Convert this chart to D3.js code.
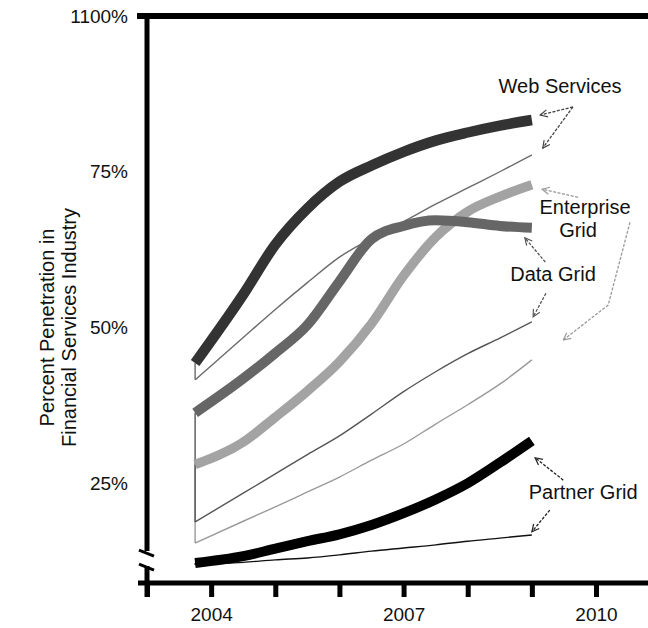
<!DOCTYPE html>
<html>
<head>
<meta charset="utf-8">
<script src="https://cdn.jsdelivr.net/npm/d3@7"></script>
<style>
  html, body { margin: 0; padding: 0; background: #fff; }
  svg { display: block; font-family: "Liberation Sans", Arial, Helvetica, sans-serif; }
</style>
</head>
<body>
<svg id="chart" width="648" height="628"></svg>
<script>
// ---------------- DATA ----------------
const years      = [2003.75, 2004.5, 2005, 2005.5, 2006, 2006.5, 2007, 2007.5, 2008, 2008.5, 2009];
const webThick   = [44.3, 55.3, 63.3, 69.1, 73.4, 76.0, 78.2, 80.0, 81.3, 82.4, 83.3];
const webThin    = [41.6, 48.4, 52.9, 57.2, 61.3, 64.3, 67.0, 69.8, 72.4, 75.0, 77.7];
const dataThick  = [36.3, 41.8, 45.9, 50.4, 57.4, 64.2, 66.3, 67.2, 66.9, 66.3, 66.0];
const dataThin   = [18.8, 23.4, 26.5, 29.6, 32.6, 36.1, 39.7, 42.9, 45.8, 48.3, 50.9];
const entThick   = [28.0, 31.6, 35.6, 39.8, 44.5, 50.6, 58.3, 64.5, 68.6, 71.0, 72.9];
const entThin    = [15.4, 18.9, 21.2, 23.6, 26.0, 28.7, 31.3, 34.5, 37.6, 40.9, 44.8];
const partThick  = [12.2, 13.3, 14.5, 15.7, 16.8, 18.3, 20.2, 22.4, 25.0, 28.3, 31.8];
const partThin   = [11.9, 12.3, 12.7, 13.0, 13.5, 14.1, 14.6, 15.1, 15.7, 16.2, 16.7];

const yTickValues = [100, 75, 50, 25];
const yTickLabels = ["1100%", "75%", "50%", "25%"];
const xTickValues = [2003, 2004, 2005, 2006, 2007, 2008, 2009, 2010];
const xTickLabels = ["", "2004", "", "", "2007", "", "", "2010"];
const yTitle = ["Percent Penetration in", "Financial Services Industry"];

// annotations: label lines and arrows in data units
const annoLabels = [
  { text: "Web Services", x: 2009.44, y: 87.6 },
  { text: "Enterprise",   x: 2009.83, y: 68.2 },
  { text: "Grid",         x: 2009.72, y: 64.5 },
  { text: "Data Grid",    x: 2009.33, y: 57.5 },
  { text: "Partner Grid", x: 2009.80, y: 22.5 }
];
const annoArrows = [
  { c: "#444", pts: [[2009.64, 85.4], [2009.13, 84.1]] },
  { c: "#444", pts: [[2009.64, 85.4], [2009.17, 78.8]] },
  { c: "#999", pts: [[2009.72, 70.9], [2009.16, 72.2]] },
  { c: "#999", pts: [[2010.53, 66.9], [2010.19, 53.6], [2009.49, 48.0]] },
  { c: "#555", pts: [[2009.21, 60.5], [2008.89, 64.4]] },
  { c: "#555", pts: [[2009.22, 55.5], [2009.02, 51.7]] },
  { c: "#222", pts: [[2009.49, 25.5], [2009.05, 29.1]] },
  { c: "#222", pts: [[2009.28, 20.7], [2009.00, 17.2]] }
];

// ---------------- SCALES ----------------
const svg = d3.select("#chart");
const x = d3.scaleLinear().domain([2003, 2010]).range([147, 596]);
const y = d3.scaleLinear().domain([0, 100]).range([639, 16]);
const axisY = 583;     // pixel position of horizontal axis
const breakPct = 13.8; // where the vertical axis is broken

// ---------------- AXES ----------------
svg.append("line")
  .attr("x1", x(2003)).attr("x2", 648)
  .attr("y1", y(100)).attr("y2", y(100))
  .attr("stroke", "#000").attr("stroke-width", 6);

const gy = svg.append("g")
  .attr("transform", `translate(${x(2003)},0)`)
  .call(d3.axisLeft(y).tickValues(yTickValues).tickSize(0).tickPadding(19)
        .tickFormat((d, i) => yTickLabels[i]));
gy.select(".domain").remove();
gy.selectAll("text").attr("font-size", 19).attr("fill", "#111")
  .attr("font-family", '"Liberation Sans", Arial, Helvetica, sans-serif');

svg.append("line")
  .attr("x1", x(2003) - 10).attr("x2", x(2003))
  .attr("y1", y(100)).attr("y2", y(100))
  .attr("stroke", "#000").attr("stroke-width", 6);

svg.append("line")
  .attr("x1", x(2003)).attr("x2", x(2003))
  .attr("y1", y(100) - 3).attr("y2", y(breakPct) - 2)
  .attr("stroke", "#000").attr("stroke-width", 5);
svg.append("line")
  .attr("x1", x(2003)).attr("x2", x(2003))
  .attr("y1", y(breakPct) + 13).attr("y2", axisY + 14)
  .attr("stroke", "#000").attr("stroke-width", 5);
[0, 14].forEach(off => {
  svg.append("line")
    .attr("x1", x(2003) - 8).attr("x2", x(2003) + 7)
    .attr("y1", y(breakPct) - 3 + off).attr("y2", y(breakPct) + 3 + off)
    .attr("stroke", "#000").attr("stroke-width", 3);
});

const gx = svg.append("g")
  .attr("transform", `translate(0,${axisY})`)
  .call(d3.axisBottom(x).tickValues(xTickValues).tickSize(14).tickPadding(11)
        .tickFormat((d, i) => xTickLabels[i]));
gx.select(".domain").remove();
gx.selectAll(".tick line").attr("stroke", "#000").attr("stroke-width", 5);
gx.selectAll("text").attr("font-size", 19).attr("fill", "#111")
  .attr("font-family", '"Liberation Sans", Arial, Helvetica, sans-serif');
svg.append("line")
  .attr("x1", x(2003) - 9).attr("x2", 648)
  .attr("y1", axisY).attr("y2", axisY)
  .attr("stroke", "#000").attr("stroke-width", 5);

const title = svg.append("text")
  .attr("transform", `translate(0,${y(50)}) rotate(-90)`)
  .attr("text-anchor", "middle")
  .attr("font-size", 20).attr("fill", "#111");
title.append("tspan").attr("x", 0).attr("y", 54).text(yTitle[0]);
title.append("tspan").attr("x", 0).attr("y", 76).text(yTitle[1]);

// ---------------- SERIES ----------------
const line = d3.line()
  .x(d => x(d[0])).y(d => y(d[1]))
  .curve(d3.curveMonotoneX);
const straight = d3.line().x(d => x(d[0])).y(d => y(d[1]));

const series = [
  { thick: entThick,  thin: entThin,  thickC: "#a3a3a3", thinC: "#9a9a9a", w: 9.5 },
  { thick: dataThick, thin: dataThin, thickC: "#666666", thinC: "#555555", w: 10 },
  { thick: webThick,  thin: webThin,  thickC: "#333333", thinC: "#6a6a6a", w: 10.5 },
  { thick: partThick, thin: partThin, thickC: "#000000", thinC: "#111111", w: 10 }
];

series.forEach(s => {
  svg.append("path")
    .attr("d", straight([[years[0], s.thick[0]], [years[0], s.thin[0]]]))
    .attr("fill", "none").attr("stroke", s.thinC).attr("stroke-width", 1.4);
  svg.append("path")
    .attr("d", line(years.map((yr, i) => [yr, s.thin[i]])))
    .attr("fill", "none").attr("stroke", s.thinC).attr("stroke-width", 1.4);
});
series.forEach(s => {
  svg.append("path")
    .attr("d", line(years.map((yr, i) => [yr, s.thick[i]])))
    .attr("fill", "none").attr("stroke", s.thickC)
    .attr("stroke-width", s.w).attr("stroke-linecap", "butt");
});

// ---------------- ANNOTATIONS ----------------
const defs = svg.append("defs");
annoArrows.forEach((a, i) => {
  defs.append("marker")
    .attr("id", "ah" + i)
    .attr("viewBox", "0 0 10 10")
    .attr("refX", 9).attr("refY", 5)
    .attr("markerWidth", 9).attr("markerHeight", 9)
    .attr("markerUnits", "userSpaceOnUse")
    .attr("orient", "auto")
    .append("path")
    .attr("d", "M1,1 L9,5 L1,9")
    .attr("fill", "none").attr("stroke", a.c).attr("stroke-width", 1.3);
  svg.append("path")
    .attr("d", straight(a.pts))
    .attr("fill", "none").attr("stroke", a.c)
    .attr("stroke-width", 1.3).attr("stroke-dasharray", "3,1.5")
    .attr("marker-end", `url(#ah${i})`);
});

svg.selectAll(".anno")
  .data(annoLabels).enter().append("text")
  .attr("class", "anno")
  .attr("x", d => x(d.x)).attr("y", d => y(d.y))
  .attr("text-anchor", "middle")
  .attr("font-size", 20).attr("fill", "#111")
  .text(d => d.text);
</script>
</body>
</html>
